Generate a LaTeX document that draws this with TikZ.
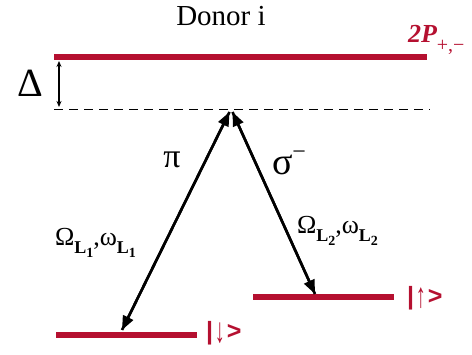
\documentclass[tikz,border=0pt]{standalone}
\usepackage{graphicx}
\usepackage{fontspec}
\setmainfont{Liberation Serif}
\newfontfamily\ketfont{Liberation Sans}
\usetikzlibrary{arrows.meta}
\definecolor{lvlred}{RGB}{181,16,48}
\newcommand{\subL}[1]{\raisebox{-0.3em}{\fontsize{18}{18}\selectfont\textbf{L}\raisebox{-0.2em}{\fontsize{14}{14}\selectfont\textbf{#1}}}}
\newcommand{\ketsym}[1]{{\bfseries|}\hspace{2pt}\raisebox{-0.12em}{\scalebox{1}[1.75]{\mdseries\fontsize{20}{22}\selectfont #1}}\hspace{2pt}{\bfseries>}}
\begin{document}
\begin{tikzpicture}[x=1pt,y=-1pt,
  level/.style={draw=lvlred,line width=6pt},
  trans/.style={line width=2.6pt,-{Triangle[length=14pt,width=11pt]}},
  lbl/.style={inner sep=0pt,outer sep=0pt},
  ket/.style={lbl,text=lvlred,font=\ketfont\fontsize{25}{27}\selectfont}]
\useasboundingbox (0,0) rectangle (472,355);
% levels
\coordinate (topL) at (54,57.5);
\coordinate (topR) at (427,57.5);
\coordinate (dashL) at (54,110);
\coordinate (dashR) at (430,110);
\coordinate (apexL) at (229.5,112);
\coordinate (apexR) at (232.5,112);
\coordinate (downL) at (56,335);
\coordinate (downR) at (197,335);
\coordinate (upL) at (253,297);
\coordinate (upR) at (394,297);
\coordinate (tipDown) at (122,330);
\coordinate (tipUp) at (315,294);
\coordinate (dTop) at (59,61);
\coordinate (dBot) at (59,107);
\draw[level] (topL) -- (topR);
\draw[level] (downL) -- (downR);
\draw[level] (upL) -- (upR);
\draw[line width=1pt,dash pattern=on 9pt off 6pt] (dashL) -- (dashR);
\draw[line width=1.2pt,{Stealth[length=6pt,width=5pt]}-{Stealth[length=6pt,width=5pt]}] (dTop) -- (dBot);
\draw[trans] (apexL) -- (tipDown);
\draw[trans] (tipDown) -- (apexL);
\draw[trans] (apexR) -- (tipUp);
\draw[trans] (tipUp) -- (apexR);
% labels
\node[lbl,anchor=base,font=\fontsize{29}{32}\selectfont] (donor) at (221,26) {Donor i};
\node[lbl,anchor=base,font=\fontsize{40}{44}\selectfont] (delta) at (30,97) {Δ};
\node[lbl,anchor=base west,text=lvlred,font=\fontsize{26}{28}\selectfont\bfseries\itshape] (twoP) at (408,43) {2P\raisebox{-0.32em}{\fontsize{20}{20}\selectfont\mdseries\upshape +,−}};
\node[lbl,anchor=base,font=\fontsize{34}{36}\selectfont] (pi) at (172,168) {π};
\node[lbl,anchor=base west,font=\fontsize{38}{40}\selectfont] (sigma) at (272,175) {σ\raisebox{0.4em}{\fontsize{24}{24}\selectfont −}};
\node[lbl,anchor=base west,font=\fontsize{26}{28}\selectfont] (om1) at (55,246) {Ω\subL{1},ω\subL{1}};
\node[lbl,anchor=base west,font=\fontsize{26}{28}\selectfont] (om2) at (297,234) {Ω\subL{2},ω\subL{2}};
\node[ket,anchor=west] (ketdown) at (206,333) {\ketsym{↓}};
\node[ket,anchor=west] (ketup) at (407,298) {\ketsym{↑}};
\end{tikzpicture}
\end{document}
